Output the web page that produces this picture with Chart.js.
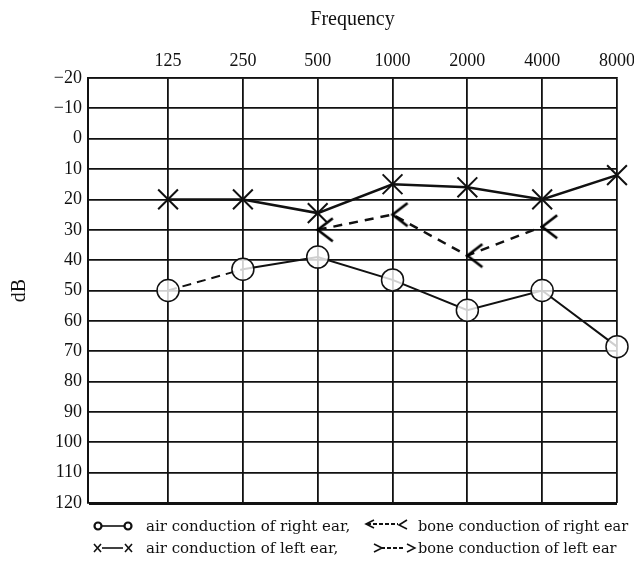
<!DOCTYPE html>
<html>
<head>
<meta charset="utf-8">
<script src="https://cdn.jsdelivr.net/npm/chart.js@4.4.1/dist/chart.umd.min.js"></script>
<style>
body { margin: 0; background: #fff; }
#wrap { position: relative; width: 634px; height: 561px; font-family: "DejaVu Serif", serif; color: #111; }
#myChart { position: absolute; left: 0; top: 0; }
.lg { position: absolute; font-size: 15px; line-height: 18px; white-space: nowrap; }
.sym { position: absolute; }
</style>
</head>
<body>
<div id="wrap">
<canvas id="myChart" width="634" height="561"></canvas>
<svg class="sym" style="left:92px;top:520px" width="42" height="12">
  <circle cx="6" cy="6" r="3.5" fill="none" stroke="#111" stroke-width="2.2"/>
  <line x1="9.5" y1="6" x2="32" y2="6" stroke="#111" stroke-width="1.6"/>
  <circle cx="36" cy="6" r="3.5" fill="none" stroke="#111" stroke-width="2.2"/>
</svg>
<div class="lg" style="left:146px;top:517px">air conduction of right ear,</div>
<svg class="sym" style="left:364px;top:518px" width="46" height="14">
  <polyline points="10,2 2,6 10,10" fill="none" stroke="#111" stroke-width="1.6"/>
  <line x1="3" y1="6" x2="34" y2="6" stroke="#111" stroke-width="1.8" stroke-dasharray="4,2"/>
  <polyline points="43,2 35,7 43,11" fill="none" stroke="#111" stroke-width="1.6"/>
</svg>
<div class="lg" style="left:418px;top:517px;font-size:14.5px">bone conduction of right ear</div>
<svg class="sym" style="left:92px;top:542px" width="42" height="12">
  <path d="M2,2 L9,10 M9,2 L2,10" stroke="#111" stroke-width="1.6"/>
  <line x1="10" y1="6" x2="31" y2="6" stroke="#111" stroke-width="1.6"/>
  <path d="M33,2 L40,10 M40,2 L33,10" stroke="#111" stroke-width="1.6"/>
</svg>
<div class="lg" style="left:146px;top:539px">air conduction of left ear,</div>
<svg class="sym" style="left:372px;top:541px" width="46" height="14">
  <polyline points="2,3 10,7 2,11" fill="none" stroke="#111" stroke-width="1.6"/>
  <line x1="9" y1="7" x2="33" y2="7" stroke="#111" stroke-width="1.8" stroke-dasharray="4,2"/>
  <polyline points="35,3 43,7 35,11" fill="none" stroke="#111" stroke-width="1.4"/>
</svg>
<div class="lg" style="left:418px;top:539px;font-size:14.5px">bone conduction of left ear</div>
</div>
<script>
// audiogram values (dB), index = frequency column
var freqLabels = ["125", "250", "500", "1000", "2000", "4000", "8000"];
var airRight = [50, 43, 39, 46.5, 56.5, 50, 68.5];
var airLeft = [20, 20, 24.5, 15, 16, 20, 12];
var boneRight = [null, null, 30, 25, 38.5, 29, null];
var dbTicks = [-20, -10, 0, 10, 20, 30, 40, 50, 60, 70, 80, 90, 100, 110, 120];

function toPoints(arr) {
    var pts = [];
    for (var i = 0; i < arr.length; i++) {
        if (arr[i] !== null) pts.push({x: i, y: arr[i]});
    }
    return pts;
}

// "<" marker, vertex sits on the data point
function lessThanMarker() {
    var c = document.createElement("canvas");
    c.width = 36; c.height = 26;
    var g = c.getContext("2d");
    g.strokeStyle = "#000";
    g.lineWidth = 2.6;
    g.beginPath();
    g.moveTo(33, 1.5);
    g.lineTo(18, 13);
    g.lineTo(33, 24.5);
    g.stroke();
    return c;
}

var ctx = document.getElementById("myChart").getContext("2d");
var myChart = new Chart(ctx, {
    type: "line",
    data: {
        datasets: [{
            label: "air conduction of right ear",
            data: toPoints(airRight),
            borderColor: "#111",
            borderWidth: 2,
            pointStyle: "circle",
            pointRadius: 11,
            pointBorderWidth: 1.5,
            pointBackgroundColor: "rgba(255,255,255,0.8)",
            pointBorderColor: "#111",
            clip: false,
            segment: {
                borderDash: function (s) { return s.p0DataIndex === 0 ? [9, 6] : undefined; }
            }
        }, {
            label: "air conduction of left ear",
            data: toPoints(airLeft),
            borderColor: "#111",
            borderWidth: 2.5,
            pointStyle: "crossRot",
            pointRadius: 14,
            pointBorderWidth: 2,
            pointBorderColor: "#111",
            clip: false
        }, {
            label: "bone conduction of right ear",
            data: toPoints(boneRight),
            borderColor: "#111",
            borderWidth: 2.5,
            borderDash: [9, 7],
            pointStyle: lessThanMarker(),
            pointRadius: 9,
            clip: false
        }]
    },
    options: {
        responsive: false,
        animation: false,
        layout: {autoPadding: false, padding: {left: 0, right: 17, top: 0, bottom: 58}},
        plugins: {legend: {display: false}, tooltip: {enabled: false}},
        scales: {
            x: {
                type: "linear",
                position: "top",
                min: -1.07,
                max: 6,
                afterBuildTicks: function (scale) {
                    scale.ticks = freqLabels.map(function (l, i) { return {value: i}; });
                },
                afterFit: function (scale) {
                    scale.height = 78;
                    scale.paddingLeft = 0;
                    scale.paddingRight = 0;
                },
                ticks: {
                    color: "#111",
                    padding: 6,
                    font: {family: "Liberation Serif", size: 18},
                    callback: function (v) { return freqLabels[v]; }
                },
                grid: {color: "#111", lineWidth: 1.8, drawTicks: false},
                border: {color: "#111", width: 1.5},
                title: {display: true, text: "Frequency", color: "#111",
                        font: {family: "Liberation Serif", size: 20}, padding: {top: 8, bottom: 10}}
            },
            y: {
                reverse: true,
                min: -20,
                max: 120,
                afterBuildTicks: function (scale) {
                    scale.ticks = dbTicks.map(function (v) { return {value: v}; });
                },
                afterFit: function (scale) { scale.width = 88; },
                ticks: {
                    color: "#111",
                    padding: 6,
                    font: {family: "Liberation Serif", size: 18},
                    callback: function (v) { return v < 0 ? "\u2212" + Math.abs(v) : v; }
                },
                grid: {
                    color: "#111",
                    lineWidth: function (c) { return c.tick && c.tick.value === 120 ? 3 : 1.8; },
                    drawTicks: false
                },
                border: {color: "#111", width: 2},
                title: {display: true, text: "dB", color: "#111",
                        font: {family: "Liberation Serif", size: 20}, padding: {top: 8, bottom: 6}}
            }
        }
    }
});
</script>
</body>
</html>
